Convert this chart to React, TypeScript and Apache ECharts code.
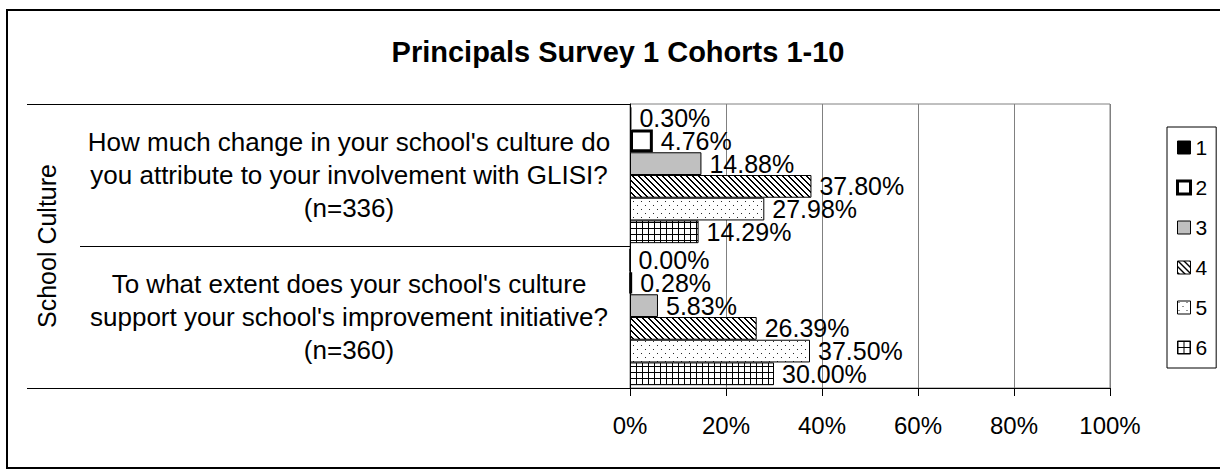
import React, { useEffect, useRef } from "react";
import * as echarts from "echarts";

const chartTitle = "Principals Survey 1 Cohorts 1-10";
const categories = [
  "How much change in your school's culture do\nyou attribute to your involvement with GLISI?\n(n=336)",
  "To what extent does your school's culture\nsupport your school's improvement initiative?\n(n=360)",
];
const groupLabels = ["School Culture"];
const seriesNames = ["1", "2", "3", "4", "5", "6"];
const values1 = [0.3, 0.0];
const values2 = [4.76, 0.28];
const values3 = [14.88, 5.83];
const values4 = [37.8, 26.39];
const values5 = [27.98, 37.5];
const values6 = [14.29, 30.0];
const xMin = 0;
const xMax = 100;
const xStep = 20;

const FONT = "'Liberation Sans', Arial, sans-serif";

function makeTile(w: number, h: number, ink: (x: number, y: number) => boolean, rgb = [0, 0, 0]) {
  const c = document.createElement("canvas");
  c.width = w;
  c.height = h;
  const ctx = c.getContext("2d")!;
  const img = ctx.createImageData(w, h);
  for (let y = 0; y < h; y++) {
    for (let x = 0; x < w; x++) {
      const i = (y * w + x) * 4;
      const on = ink(x, y);
      img.data[i] = on ? rgb[0] : 255;
      img.data[i + 1] = on ? rgb[1] : 255;
      img.data[i + 2] = on ? rgb[2] : 255;
      img.data[i + 3] = 255;
    }
  }
  ctx.putImageData(img, 0, 0);
  return { image: c, repeat: "repeat", imageWidth: w, imageHeight: h } as any;
}

export default function App() {
  const ref = useRef<HTMLDivElement>(null);
  useEffect(() => {
    if (!ref.current) return;
    const chart = echarts.init(ref.current, undefined, { renderer: "svg" });

    const hatch = makeTile(6, 6, (x, y) => (((x - y) % 6) + 6) % 6 < 2);
    const dots = makeTile(8, 8, (x, y) => (x === 1 && y === 1) || (x === 5 && y === 5), [40, 40, 40]);
    const grid = makeTile(6, 6, (x, y) => x === 0 || y === 0);

    const fills: any[] = ["#000000", "#ffffff", "#c0c0c0", hatch, dots, grid];
    const borderWidths = [1, 3, 1, 1, 1, 1];
    const data = [values1, values2, values3, values4, values5, values6];

    const series = seriesNames.map((name, i) => ({
      name,
      type: "bar",
      data: data[i],
      barGap: "0%",
      barCategoryGap: "4%",
      itemStyle: { color: fills[i], borderColor: "#000", borderWidth: borderWidths[i] },
      label: {
        show: true,
        position: "right",
        distance: 8,
        fontSize: 25,
        fontFamily: FONT,
        color: "#000",
        formatter: (p: any) => Number(p.value).toFixed(2) + "%",
      },
    }));

    chart.setOption({
      animation: false,
      backgroundColor: "#ffffff",
      textStyle: { fontFamily: FONT },
      grid: {
        left: 630,
        top: 104,
        width: 480,
        height: 284,
        show: true,
        borderColor: "#808080",
        borderWidth: 1,
        backgroundColor: "transparent",
      },
      xAxis: {
        type: "value",
        min: xMin,
        max: xMax,
        interval: xStep,
        axisLine: { show: true, lineStyle: { color: "#000", width: 1 } },
        axisTick: { show: true, length: 8, lineStyle: { color: "#000" } },
        splitLine: { show: true, lineStyle: { color: "#808080", width: 1 } },
        axisLabel: {
          formatter: "{value}%",
          fontSize: 24,
          color: "#000",
          fontFamily: FONT,
          margin: 25,
        },
      },
      yAxis: [
        {
          type: "category",
          data: categories,
          inverse: true,
          axisLine: { show: true, lineStyle: { color: "#000", width: 1 } },
          axisTick: { show: true, length: 550, lineStyle: { color: "#000" } },
          axisLabel: {
            fontSize: 26,
            lineHeight: 33,
            align: "center",
            margin: 281,
            color: "#000",
            fontFamily: FONT,
          },
        },
        {
          type: "category",
          data: groupLabels,
          position: "left",
          offset: 550,
          axisLine: { show: false },
          axisTick: { show: true, length: 53, lineStyle: { color: "#000" } },
          axisLabel: {
            rotate: 90,
            fontSize: 25,
            margin: 21,
            color: "#000",
            fontFamily: FONT,
          },
        },
      ],
      legend: {
        orient: "vertical",
        left: 1167,
        top: 127,
        padding: [10, 9, 10, 9],
        itemGap: 19,
        itemWidth: 13,
        itemHeight: 13,
        icon: "rect",
        borderColor: "#000",
        borderWidth: 1,
        data: seriesNames.map((name, i) => ({
          name,
          itemStyle: { borderColor: "#000", borderWidth: borderWidths[i] === 3 ? 3 : 1 },
        })),
        textStyle: { fontSize: 21, color: "#000", fontFamily: FONT },
      },
      graphic: [
        {
          type: "rect",
          shape: { x: 7, y: 10, width: 1240, height: 458 },
          style: { fill: "none", stroke: "#000", lineWidth: 2 },
          silent: true,
        },
        {
          type: "text",
          x: 618,
          y: 52,
          style: {
            text: chartTitle,
            fontSize: 29,
            fontWeight: "bold",
            fontFamily: FONT,
            fill: "#000",
            textAlign: "center",
            textVerticalAlign: "middle",
          },
        },
      ],
      series,
    });

    return () => chart.dispose();
  }, []);

  return (
    <div
      ref={ref}
      style={{ position: "absolute", left: 0, top: 0, width: 1220, height: 470, background: "#fff" }}
    />
  );
}
